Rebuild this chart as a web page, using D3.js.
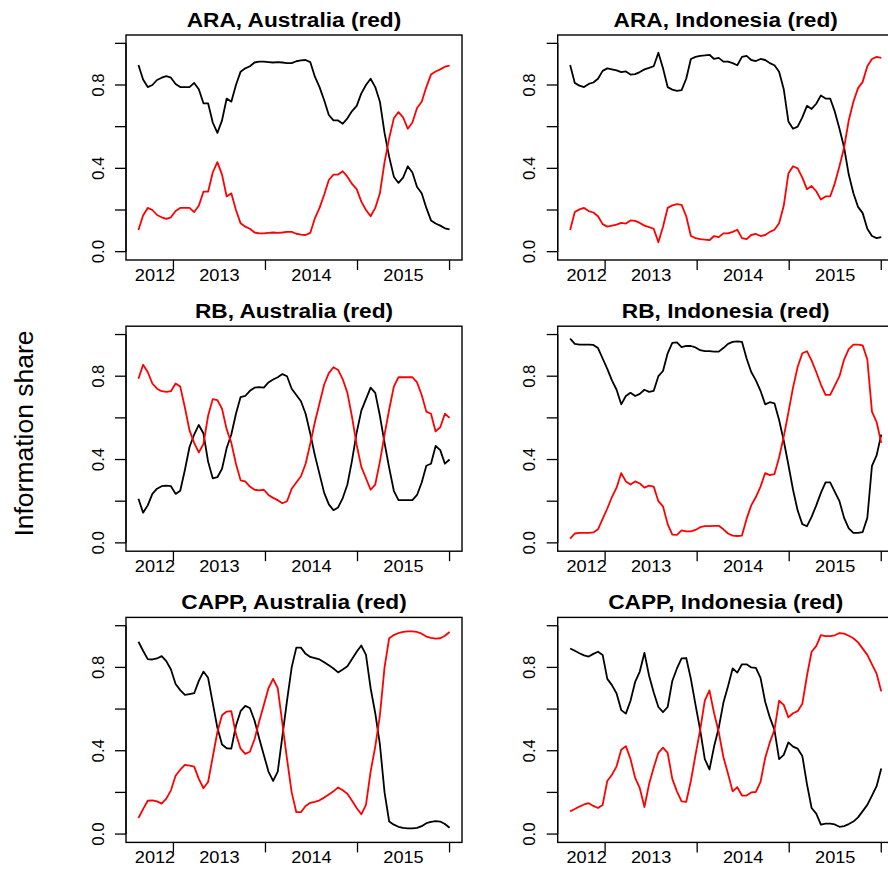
<!DOCTYPE html>
<html>
<head>
<meta charset="utf-8">
<script src="https://cdn.jsdelivr.net/npm/d3@7"></script>
<style>
  body { margin: 0; background: #fff; }
  text { font-family: "Liberation Sans", Arial, Helvetica, sans-serif; }
</style>
</head>
<body>
<script>
// time axis: weekly-ish samples from mid 2012 to end of 2015
var tStart = 2012.62, tEnd = 2016.0;
var yearTicks = [2013, 2014, 2015, 2016];
var yearLabels = ["2012", "2013", "2014", "2015"];
var yearLabelPos = [2012.8, 2013.5, 2014.5, 2015.5];
var shareTicks = [0, 0.2, 0.4, 0.6, 0.8, 1.0];
var shareLabels = [0, 0.4, 0.8];

var titles = ["ARA, Australia (red)", "ARA, Indonesia (red)",
              "RB, Australia (red)", "RB, Indonesia (red)",
              "CAPP, Australia (red)", "CAPP, Indonesia (red)"];

// black = other market, red = named market
var araAusBlack = [0.896,0.826,0.79,0.80,0.824,0.835,0.843,0.835,0.805,0.79,0.79,0.79,0.81,0.78,0.712,0.712,0.62,0.57,0.63,0.735,0.72,0.80,0.864,0.88,0.89,0.908,0.912,0.912,0.91,0.908,0.91,0.908,0.905,0.905,0.914,0.918,0.92,0.91,0.84,0.79,0.727,0.656,0.63,0.63,0.614,0.64,0.675,0.70,0.76,0.80,0.83,0.79,0.72,0.57,0.455,0.36,0.33,0.355,0.41,0.38,0.31,0.28,0.21,0.15,0.135,0.125,0.112,0.107];
var araAusRed = [0.104,0.174,0.21,0.20,0.176,0.165,0.157,0.165,0.195,0.21,0.21,0.21,0.19,0.22,0.288,0.288,0.38,0.43,0.37,0.265,0.28,0.20,0.136,0.12,0.11,0.092,0.088,0.088,0.09,0.092,0.09,0.092,0.095,0.095,0.086,0.082,0.08,0.09,0.16,0.21,0.273,0.344,0.37,0.37,0.386,0.36,0.325,0.30,0.24,0.20,0.17,0.21,0.28,0.43,0.545,0.64,0.67,0.645,0.59,0.62,0.69,0.72,0.79,0.85,0.865,0.875,0.888,0.893];

var araIndBlack = [0.896,0.81,0.797,0.79,0.805,0.812,0.83,0.868,0.88,0.875,0.87,0.862,0.865,0.85,0.852,0.862,0.875,0.882,0.89,0.955,0.88,0.79,0.778,0.772,0.775,0.83,0.925,0.935,0.94,0.942,0.945,0.925,0.93,0.912,0.912,0.905,0.895,0.935,0.94,0.92,0.915,0.925,0.92,0.905,0.895,0.864,0.78,0.625,0.59,0.60,0.645,0.70,0.685,0.71,0.75,0.735,0.735,0.672,0.59,0.50,0.37,0.28,0.215,0.185,0.11,0.075,0.065,0.07];
var araIndRed = [0.104,0.19,0.203,0.21,0.195,0.188,0.17,0.132,0.12,0.125,0.13,0.138,0.135,0.15,0.148,0.138,0.125,0.118,0.11,0.045,0.12,0.21,0.222,0.228,0.225,0.17,0.075,0.065,0.06,0.058,0.055,0.075,0.07,0.088,0.088,0.095,0.105,0.065,0.06,0.08,0.085,0.075,0.08,0.095,0.105,0.136,0.22,0.375,0.41,0.40,0.355,0.30,0.315,0.29,0.25,0.265,0.265,0.328,0.41,0.50,0.63,0.72,0.785,0.815,0.89,0.925,0.935,0.93];

var rbAusBlack = [0.212,0.145,0.18,0.235,0.26,0.272,0.275,0.272,0.235,0.25,0.35,0.46,0.52,0.566,0.525,0.39,0.31,0.315,0.356,0.455,0.52,0.62,0.70,0.705,0.73,0.745,0.748,0.745,0.77,0.784,0.795,0.81,0.80,0.74,0.71,0.68,0.62,0.525,0.42,0.33,0.24,0.185,0.157,0.17,0.215,0.28,0.396,0.53,0.635,0.69,0.745,0.72,0.61,0.48,0.36,0.25,0.205,0.205,0.205,0.205,0.23,0.29,0.37,0.38,0.465,0.445,0.38,0.40];
var rbAusRed = [0.788,0.855,0.82,0.765,0.74,0.728,0.725,0.728,0.765,0.75,0.65,0.54,0.48,0.434,0.475,0.61,0.69,0.685,0.644,0.545,0.48,0.38,0.30,0.295,0.27,0.255,0.252,0.255,0.23,0.216,0.205,0.19,0.20,0.26,0.29,0.32,0.38,0.475,0.58,0.67,0.76,0.815,0.843,0.83,0.785,0.72,0.604,0.47,0.365,0.31,0.255,0.28,0.39,0.52,0.64,0.75,0.795,0.795,0.795,0.795,0.77,0.71,0.63,0.62,0.535,0.555,0.62,0.60];

var rbIndBlack = [0.98,0.955,0.952,0.952,0.952,0.95,0.935,0.885,0.835,0.78,0.735,0.665,0.705,0.72,0.705,0.715,0.735,0.725,0.73,0.80,0.825,0.91,0.96,0.962,0.94,0.945,0.945,0.938,0.925,0.92,0.92,0.918,0.918,0.935,0.955,0.965,0.967,0.965,0.885,0.82,0.78,0.73,0.665,0.675,0.67,0.59,0.49,0.375,0.255,0.155,0.09,0.08,0.125,0.18,0.24,0.29,0.29,0.245,0.2,0.12,0.07,0.048,0.048,0.052,0.12,0.37,0.42,0.52];
var rbIndRed = [0.02,0.045,0.048,0.048,0.048,0.05,0.065,0.115,0.165,0.22,0.265,0.335,0.295,0.28,0.295,0.285,0.265,0.275,0.27,0.20,0.175,0.09,0.04,0.038,0.06,0.055,0.055,0.062,0.075,0.08,0.08,0.082,0.082,0.065,0.045,0.035,0.033,0.035,0.115,0.18,0.22,0.27,0.335,0.325,0.33,0.41,0.51,0.625,0.745,0.845,0.91,0.92,0.875,0.82,0.76,0.71,0.71,0.755,0.80,0.88,0.93,0.952,0.952,0.948,0.88,0.63,0.58,0.48];

var cappAusBlack = [0.923,0.88,0.84,0.838,0.843,0.854,0.83,0.79,0.72,0.691,0.668,0.672,0.676,0.735,0.78,0.75,0.63,0.51,0.43,0.412,0.41,0.52,0.59,0.615,0.605,0.545,0.46,0.38,0.30,0.255,0.30,0.47,0.64,0.80,0.895,0.895,0.865,0.85,0.845,0.838,0.825,0.81,0.795,0.776,0.79,0.806,0.84,0.875,0.905,0.86,0.70,0.58,0.43,0.20,0.06,0.045,0.035,0.03,0.027,0.027,0.03,0.038,0.052,0.058,0.062,0.06,0.048,0.03];
var cappAusRed = [0.077,0.12,0.16,0.162,0.157,0.146,0.17,0.21,0.28,0.309,0.332,0.328,0.324,0.265,0.22,0.25,0.37,0.49,0.57,0.588,0.59,0.48,0.41,0.385,0.395,0.455,0.54,0.62,0.70,0.745,0.70,0.53,0.36,0.20,0.105,0.105,0.135,0.15,0.155,0.162,0.175,0.19,0.205,0.224,0.21,0.194,0.16,0.125,0.095,0.14,0.30,0.42,0.57,0.80,0.94,0.955,0.965,0.97,0.973,0.973,0.97,0.962,0.948,0.942,0.938,0.94,0.952,0.97];

var cappIndBlack = [0.891,0.88,0.868,0.858,0.852,0.865,0.875,0.86,0.745,0.715,0.675,0.595,0.578,0.64,0.73,0.78,0.87,0.76,0.68,0.61,0.585,0.61,0.735,0.795,0.843,0.845,0.745,0.62,0.50,0.36,0.31,0.42,0.51,0.63,0.71,0.795,0.775,0.815,0.815,0.80,0.798,0.75,0.635,0.56,0.50,0.36,0.38,0.44,0.42,0.41,0.375,0.24,0.125,0.098,0.045,0.05,0.05,0.046,0.035,0.038,0.048,0.06,0.08,0.11,0.14,0.185,0.23,0.315];
var cappIndRed = [0.109,0.12,0.132,0.142,0.148,0.135,0.125,0.14,0.255,0.285,0.325,0.405,0.422,0.36,0.27,0.22,0.13,0.24,0.32,0.39,0.415,0.39,0.265,0.205,0.157,0.155,0.255,0.38,0.50,0.64,0.69,0.58,0.49,0.37,0.29,0.205,0.225,0.185,0.185,0.20,0.202,0.25,0.365,0.44,0.50,0.64,0.62,0.56,0.58,0.59,0.625,0.76,0.875,0.902,0.955,0.95,0.95,0.954,0.965,0.962,0.952,0.94,0.92,0.89,0.86,0.815,0.77,0.685];

var blackSeries = [araAusBlack, araIndBlack, rbAusBlack, rbIndBlack, cappAusBlack, cappIndBlack];
var redSeries = [araAusRed, araIndRed, rbAusRed, rbIndRed, cappAusRed, cappIndRed];

// layout
const canvWidth = 888, canvHeight = 871;
const colX = [126, 557.7];
const rowY = [35, 326.2, 617.4];
const boxW = 336, boxH = 225;
const stretch = 1.08; // text in the original is a bit wide

const svg = d3.select("body").append("svg")
    .attr("width", canvWidth)
    .attr("height", canvHeight);

// same scales for every panel (R style 4% padding)
const padX = (boxW - boxW / 1.08) / 2;
const padY = (boxH - boxH / 1.08) / 2;
const xScale = d3.scaleLinear().domain([tStart, tEnd]).range([padX, boxW - padX]);
const yScale = d3.scaleLinear().domain([0, 1]).range([boxH - padY, padY]);

function timeOf(i, n) {
    return tStart + i * (tEnd - tStart) / (n - 1);
}

const line = d3.line()
    .x(function (d, i, arr) { return xScale(timeOf(i, arr.length)); })
    .y(function (d) { return yScale(d); })
    .curve(d3.curveLinear);

titles.forEach(function (title, k) {
    var col = k % 2, row = Math.floor(k / 2);
    var g = svg.append("g")
        .attr("transform", "translate(" + colX[col] + "," + rowY[row] + ")");

    // lines
    g.append("path")
        .attr("d", line(blackSeries[k]))
        .attr("fill", "none")
        .attr("stroke", "#000")
        .attr("stroke-width", 1.8)
        .attr("stroke-linejoin", "round");
    g.append("path")
        .attr("d", line(redSeries[k]))
        .attr("fill", "none")
        .attr("stroke", "#ff0000")
        .attr("stroke-width", 1.8)
        .attr("stroke-linejoin", "round");

    // box
    g.append("rect")
        .attr("width", boxW)
        .attr("height", boxH)
        .attr("fill", "none")
        .attr("stroke", "#000")
        .attr("stroke-width", 1.4);

    // y axis
    g.append("line")
        .attr("x1", 0).attr("x2", 0)
        .attr("y1", yScale(0)).attr("y2", yScale(1))
        .attr("stroke", "#000").attr("stroke-width", 1.3);
    g.selectAll(".ytick").data(shareTicks).enter()
        .append("line")
        .attr("x1", -11).attr("x2", 0)
        .attr("y1", d => yScale(d)).attr("y2", d => yScale(d))
        .attr("stroke", "#000").attr("stroke-width", 1.3);
    g.selectAll(".ylab").data(shareLabels).enter()
        .append("text")
        .attr("transform", d => "translate(-22.5," + yScale(d) + ") rotate(-90)")
        .attr("text-anchor", "middle")
        .attr("font-size", "16.8px")
        .text(d => d3.format(".1f")(d));

    // x axis
    g.selectAll(".xtick").data(yearTicks).enter()
        .append("line")
        .attr("x1", d => xScale(d)).attr("x2", d => xScale(d))
        .attr("y1", boxH).attr("y2", boxH + 10)
        .attr("stroke", "#000").attr("stroke-width", 1.3);
    g.selectAll(".xlab").data(yearLabels).enter()
        .append("text")
        .attr("transform", (d, i) => "translate(" + xScale(yearLabelPos[i]) + "," + (boxH + 21) + ") scale(" + stretch + ",1)")
        .attr("text-anchor", "middle")
        .attr("font-size", "16.8px")
        .text(d => d);

    // title
    g.append("text")
        .attr("transform", "translate(" + (boxW / 2) + ",-8) scale(" + stretch + ",1)")
        .attr("text-anchor", "middle")
        .attr("font-size", "21px")
        .attr("font-weight", "bold")
        .text(title);
});

// shared y label
svg.append("text")
    .attr("transform", "translate(33,433.5) rotate(-90)")
    .attr("text-anchor", "middle")
    .attr("font-size", "26.5px")
    .text("Information share");
</script>
</body>
</html>
